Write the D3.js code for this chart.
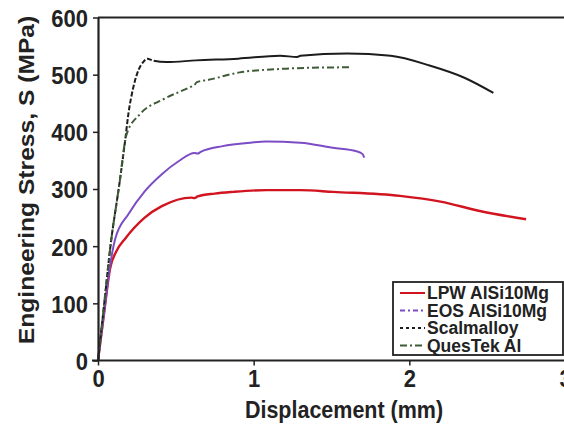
<!DOCTYPE html>
<html>
<head>
<meta charset="utf-8">
<script src="https://cdn.jsdelivr.net/npm/d3@7"></script>
<style>
  body { margin: 0; background: #fff; }
  svg { display: block; font-family: "Liberation Sans", Arial, sans-serif; font-weight: bold; }
</style>
</head>
<body>
<svg></svg>
<script>
var viewWidth = 564;
var viewHeight = 428;

// series names shown in the legend
var seriesNames = ["LPW AlSi10Mg", "EOS AlSi10Mg", "Scalmalloy", "QuesTek Al"];

// displacement (mm) / stress (MPa)
var lpwX = [0, 0.04, 0.077, 0.12, 0.174, 0.3, 0.41, 0.6, 0.62, 0.64, 0.75, 0.87, 1.08, 1.3, 1.51, 1.94, 2.2, 2.46, 2.75];
var lpwY = [0, 85, 160, 192, 213, 250, 270, 285, 284, 287, 292, 295, 298, 298, 295, 288, 278, 261, 247];

var eosX = [0, 0.04, 0.077, 0.11, 0.195, 0.3, 0.41, 0.52, 0.62, 0.64, 0.66, 0.8, 0.98, 1.08, 1.3, 1.51, 1.66, 1.7, 1.71];
var eosY = [0, 85, 165, 212, 256, 296, 326, 349, 363, 362, 365, 375, 381, 383, 381, 372, 366, 361, 355];

var scalX = [0, 0.04, 0.08, 0.14, 0.174, 0.195, 0.227, 0.26, 0.29, 0.317, 0.35, 0.44, 0.63, 0.9, 1.17, 1.28, 1.3, 1.6, 1.88, 2.13, 2.35, 2.54];
var scalY = [0, 100, 200, 314, 384, 431, 478, 508, 522, 528, 525, 522, 525, 528, 533, 531, 533, 537, 533, 516, 495, 468];

var questX = [0, 0.04, 0.08, 0.14, 0.174, 0.184, 0.27, 0.42, 0.59, 0.62, 0.635, 0.71, 0.91, 1.17, 1.23, 1.63];
var questY = [0, 100, 200, 314, 384, 396, 431, 457, 478, 482, 487, 491, 504, 510, 511, 513];

var xTicks = [0, 1, 2, 3];
var yTicks = [0, 100, 200, 300, 400, 500, 600];

var colors = ["#d11420", "#7b4cc4", "#1c1c1c", "#3f5a37"];
var lineDash = [null, null, "5,2", "7,3,2,3"];
var legendDash = [null, "5,3,2,3", "3,3", "7,3,2,3"];

var margin = {top: 17.5, right: 0, bottom: 67.5, left: 98};
var plotW = 467;
var plotH = viewHeight - margin.top - margin.bottom;
var stretch = 1.12; // the picture's text is a bit taller than wide

var svg = d3.select("svg")
    .attr("width", viewWidth)
    .attr("height", viewHeight);

var g = svg.append("g")
    .attr("transform", "translate(" + margin.left + "," + margin.top + ")");

var xScale = d3.scaleLinear().domain([0, 3]).range([0, plotW]);
var yScale = d3.scaleLinear().domain([0, 600]).range([plotH, 0]);

// top / right frame
g.append("path")
    .attr("d", "M0,0H" + plotW + "V" + plotH)
    .attr("fill", "none")
    .attr("stroke", "#222")
    .attr("stroke-width", 2);

var series = [
  {x: lpwX, y: lpwY},
  {x: eosX, y: eosY},
  {x: scalX, y: scalY},
  {x: questX, y: questY}
];

var line = d3.line()
    .x(function(d){ return xScale(d[0]); })
    .y(function(d){ return yScale(d[1]); })
    .curve(d3.curveMonotoneX);

series.forEach(function(s, i) {
  var pts = s.x.map(function(v, j){ return [v, s.y[j]]; });
  var p = g.append("path")
    .datum(pts)
    .attr("d", line)
    .attr("fill", "none")
    .attr("stroke", colors[i])
    .attr("stroke-width", i == 0 ? 2.4 : 2)
    .attr("stroke-dasharray", lineDash[i]);
  if (i == 2) {
    // Scalmalloy: dashed on the steep rise, near solid on the plateau
    var tmp = g.append("path").attr("d", line(pts.filter(function(d){ return d[0] <= 0.317; })));
    var riseLen = tmp.node().getTotalLength();
    tmp.remove();
    var dash = [];
    for (var l = 0; l < riseLen; l += 7) dash.push(5, 2);
    dash.push(5000, 0);
    p.attr("stroke-dasharray", dash.join(","));
  }
});

var xAxis = d3.axisBottom(xScale).tickValues(xTicks).tickFormat(d3.format("d"))
    .tickSize(5).tickSizeOuter(0).tickPadding(6);
var yAxis = d3.axisLeft(yScale).tickValues(yTicks).tickFormat(d3.format("d"))
    .tickSize(5).tickSizeOuter(0).tickPadding(10);

var gx = g.append("g")
    .attr("transform", "translate(0," + plotH + ")")
    .call(xAxis);
var gy = g.append("g").call(yAxis);

[gx, gy].forEach(function(a) {
  a.select(".domain").attr("stroke", "#222").attr("stroke-width", 2.2);
  a.selectAll(".tick line").attr("stroke", "#222").attr("stroke-width", 1.5);
  a.selectAll(".tick text")
    .attr("fill", "#222")
    .style("font-size", "22px")
    .style("font-weight", "bold");
});
// x-axis extends a little to the left of the y axis
gx.select(".domain").attr("d", "M-6,0H" + plotW);

gy.selectAll(".tick text")
    .attr("x", null)
    .attr("transform", "translate(-10,0) scale(1," + stretch + ")")
    .attr("dy", "0.36em");
gx.selectAll(".tick text")
    .attr("y", null)
    .attr("dy", null)
    .attr("transform", "translate(0,26) scale(1," + stretch + ")");

svg.append("text")
    .attr("transform", "translate(344,418) scale(1," + stretch + ")")
    .attr("text-anchor", "middle")
    .attr("fill", "#222")
    .style("font-size", "21.5px")
    .text("Displacement (mm)");

svg.append("text")
    .attr("transform", "translate(34,180) scale(1," + stretch + ") rotate(-90)")
    .attr("text-anchor", "middle")
    .attr("fill", "#222")
    .style("font-size", "22px")
    .text("Engineering Stress, S (MPa)");

// legend
var legend = svg.append("g").attr("transform", "translate(393,282)");
legend.append("rect")
    .attr("width", 170)
    .attr("height", 73)
    .attr("fill", "#fff")
    .attr("stroke", "#222")
    .attr("stroke-width", 1.8);

seriesNames.forEach(function(name, i) {
  var cy = 11 + i * 17.5;
  legend.append("line")
    .attr("x1", 7).attr("x2", 32)
    .attr("y1", cy).attr("y2", cy)
    .attr("stroke", colors[i])
    .attr("stroke-width", 2)
    .attr("stroke-dasharray", legendDash[i]);
  legend.append("text")
    .attr("x", 34)
    .attr("y", cy)
    .attr("dy", "0.36em")
    .attr("fill", "#222")
    .style("font-size", "17.5px")
    .text(name);
});
</script>
</body>
</html>
